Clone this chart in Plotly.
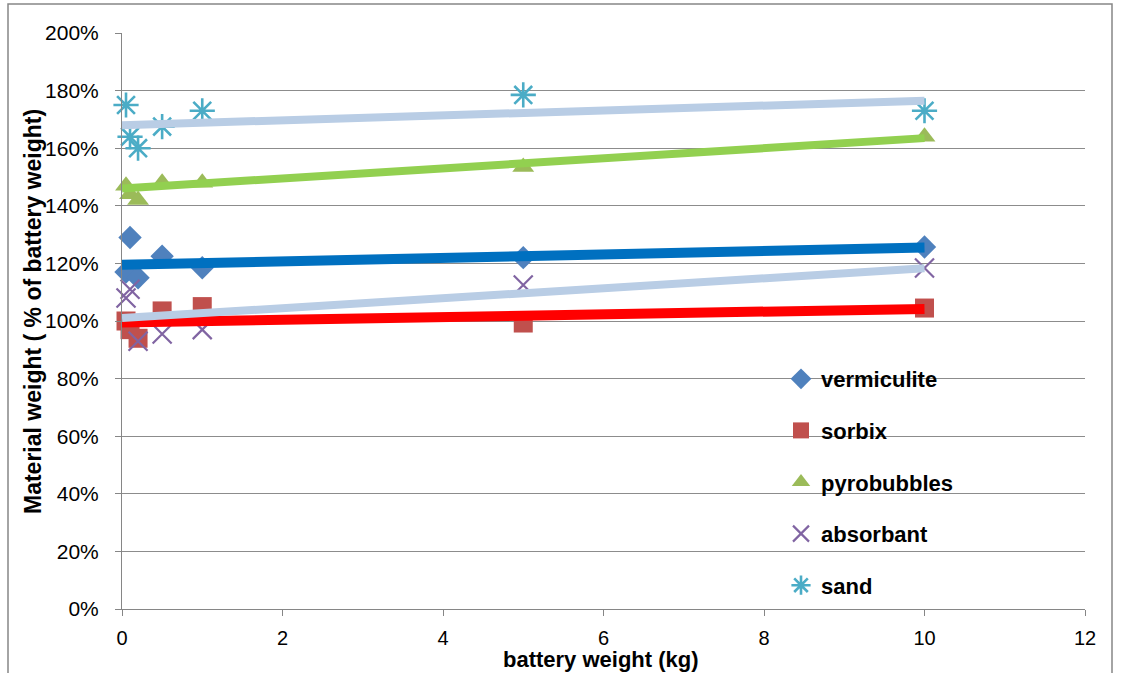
import plotly.graph_objects as go

# ---- data ----
x_vals = [0.05, 0.1, 0.2, 0.5, 1, 5, 10]
vermiculite = [1.17, 1.29, 1.15, 1.225, 1.185, 1.22, 1.257]
sorbix = [1.00, 0.97, 0.94, 1.035, 1.05, 0.993, 1.045]
pyrobubbles = [1.47, 1.44, 1.42, 1.48, 1.48, 1.535, 1.64]
absorbant = [1.08, 1.11, 0.93, 0.955, 0.97, 1.125, 1.184]
sand = [1.75, 1.64, 1.60, 1.675, 1.73, 1.785, 1.73]

# linear trendline end values (at x = 0 and x = 10)
trend_x = [0, 10]
trend_vermiculite = [1.195, 1.255]
trend_sorbix = [0.995, 1.042]
trend_pyrobubbles = [1.46, 1.635]
trend_absorbant = [1.01, 1.183]
trend_sand = [1.68, 1.765]

x_ticks = [0, 2, 4, 6, 8, 10, 12]
y_ticks = [0, 0.2, 0.4, 0.6, 0.8, 1.0, 1.2, 1.4, 1.6, 1.8, 2.0]

series = [
    ("vermiculite", vermiculite, dict(symbol="diamond", size=18, color="#4F81BD")),
    ("sorbix", sorbix, dict(symbol="square", size=19, color="#C0504D")),
    ("pyrobubbles", pyrobubbles, dict(symbol="triangle-up", size=19, color="#9BBB59")),
    ("absorbant", absorbant, dict(symbol="x-thin-open", size=19, color="#8064A2",
                                   line=dict(width=2.2, color="#8064A2"))),
    ("sand", sand, dict(symbol="asterisk-open", size=21, color="#4BACC6",
                         line=dict(width=2.6, color="#4BACC6"))),
]

trends = [
    (trend_vermiculite, "#0070C0", 10),
    (trend_sorbix, "#FF0000", 10),
    (trend_pyrobubbles, "#92D050", 8),
    (trend_absorbant, "#B9CDE5", 8),
    (trend_sand, "#B9CDE5", 8),
]

fig = go.Figure()
for name, vals, mk in series:
    fig.add_trace(go.Scatter(x=x_vals, y=vals, mode="markers", name="<b>" + name + "</b>",
                             marker=mk, legendgroup=name, cliponaxis=False))
for vals, col, w in trends:
    fig.add_trace(go.Scatter(x=trend_x, y=vals, mode="lines", showlegend=False,
                             line=dict(color=col, width=w), hoverinfo="skip"))

W, H = 1124, 673
L, R, T, B = 122, 39, 33, 64
pw, ph = W - L - R, H - T - B


def px_x(p):
    return (p - L) / pw


def px_y(p):
    return (H - B - p) / ph


fig.update_layout(
    width=W, height=H,
    margin=dict(l=L, r=R, t=T, b=B),
    paper_bgcolor="white", plot_bgcolor="white",
    font=dict(family="Liberation Sans", color="#000000"),
    showlegend=True,
    legend=dict(x=px_x(781), y=px_y(358), xanchor="left", yanchor="top",
                bgcolor="rgba(0,0,0,0)", font=dict(size=22, family="Liberation Sans", color="#000"),
                traceorder="grouped", tracegroupgap=20, itemsizing="trace"),
    xaxis=dict(range=[0, 12], tickvals=x_ticks, ticktext=[str(v) for v in x_ticks],
               showgrid=False, zeroline=False, showline=True, linecolor="#868686", linewidth=1,
               ticks="outside", ticklen=6, tickcolor="#868686",
               tickfont=dict(size=20, family="Liberation Sans", color="#000"),
               ticklabelstandoff=5),
    yaxis=dict(range=[0, 2], tickvals=y_ticks, tickformat=".0%",
               showgrid=True, gridcolor="#8C8C8C", gridwidth=1, zeroline=False,
               showline=True, linecolor="#868686", linewidth=1,
               ticks="outside", ticklen=6, tickcolor="#868686",
               tickfont=dict(size=21, family="Liberation Sans", color="#000"),
               ticklabelstandoff=12),
    annotations=[
        dict(text="<b>battery weight (kg)</b>", xref="paper", yref="paper",
             x=px_x(601), y=px_y(659), xanchor="center", yanchor="middle",
             showarrow=False, font=dict(size=22, family="Liberation Sans", color="#000")),
        dict(text="<b>Material weight ( % of battery weight)</b>", xref="paper", yref="paper",
             x=px_x(33), y=px_y(312), xanchor="center", yanchor="middle", textangle=-90,
             showarrow=False, font=dict(size=23, family="Liberation Sans", color="#000")),
    ],
    shapes=[
        dict(type="rect", xref="paper", yref="paper",
             x0=px_x(8), x1=px_x(1112), y0=px_y(690), y1=px_y(4),
             line=dict(color="#868686", width=1.5), fillcolor="rgba(0,0,0,0)", layer="below"),
    ],
)

fig.write_html("out.html", config={"displayModeBar": False},
               post_script="document.body.style.margin='0';document.body.style.padding='0';")
